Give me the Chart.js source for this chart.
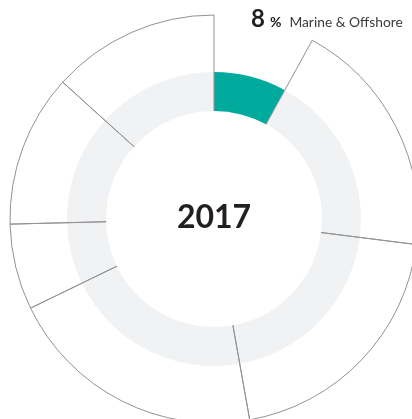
<!DOCTYPE html>
<html>
<head>
<meta charset="utf-8">
<title>2017</title>
<script src="https://cdn.jsdelivr.net/npm/chart.js@4.4.0/dist/chart.umd.min.js"></script>
<style>
  body { margin: 0; background: #fff; }
  #wrap { position: relative; width: 412px; height: 419px; overflow: hidden; font-family: Lato, "Noto Sans", sans-serif; }
  #wrap canvas { position: absolute; left: 0; top: 0; }
  #year { position: absolute; left: 114px; top: 200px; width: 200px; text-align: center;
          font-size: 32px; line-height: 32px; font-weight: 700; color: #231f20; }
  #callout { position: absolute; left: 251px; top: 7px; white-space: nowrap; line-height: 22px; color: #231f20; }
  #callout .pct { font-size: 24px; font-weight: 700; }
  #callout .sign { font-size: 14px; font-weight: 700; margin-left: 5px; }
  #callout .name { font-size: 13.8px; color: #3a3a3a; margin-left: 8px; }
</style>
</head>
<body>
<div id="wrap">
  <canvas id="ring" width="412" height="419"></canvas>
  <canvas id="outline" width="412" height="419"></canvas>
  <div id="year">2017</div>
  <div id="callout"><span class="pct" id="pct"></span><span class="sign">%</span><span class="name" id="name"></span></div>
</div>
<script>
// business lines, clockwise from 12 o'clock
const segments = ['Marine & Offshore', 'Business 2', 'Business 3', 'Business 4', 'Business 5', 'Business 6', 'Business 7'];
const shares2017 = [8, 19, 20.2, 20.6, 6.8, 12.1, 13.3];
const yearLabel = '2017';

// ring sizes (px)
const OUTER_R = 204;
const RING_R = 147;
const HOLE_R = 108;

const TEAL = '#00ab9e';
const LIGHT = '#f1f2f4';
const LINE = '#929292';

// centre of both rings sits at (214, 219)
const pad = { left: 16, top: 19, right: 0, bottom: 0 };

document.getElementById('pct').textContent = shares2017[0];
document.getElementById('name').textContent = segments[0];
document.getElementById('year').textContent = yearLabel;

// hides whatever the outline chart draws inside the hole
const holeClip = {
    id: 'holeClip',
    beforeDatasetsDraw(chart, args, opts) {
        const arc = chart.getDatasetMeta(0).data[0];
        const ctx = chart.ctx;
        ctx.save();
        ctx.beginPath();
        ctx.rect(0, 0, chart.width, chart.height);
        ctx.arc(arc.x, arc.y, opts.radius, 0, Math.PI * 2);
        ctx.clip('evenodd');
    },
    afterDatasetsDraw(chart) {
        chart.ctx.restore();
    }
};

const baseOpts = {
    responsive: false,
    animation: false,
    events: [],
    layout: { padding: pad },
    plugins: { legend: { display: false }, tooltip: { enabled: false } }
};

// inner ring: highlighted share vs the rest
new Chart(document.getElementById('ring'), {
    type: 'doughnut',
    data: {
        labels: [segments[0], 'Other'],
        datasets: [{
            data: [shares2017[0], 100 - shares2017[0]],
            backgroundColor: [TEAL, LIGHT],
            borderWidth: 0
        }]
    },
    options: Object.assign({}, baseOpts, {
        radius: RING_R,
        cutout: (HOLE_R / RING_R * 100) + '%'
    })
});

// outer ring: thin outlines of every business line
new Chart(document.getElementById('outline'), {
    type: 'doughnut',
    data: {
        labels: segments,
        datasets: [{
            data: shares2017,
            backgroundColor: 'rgba(0,0,0,0)',
            borderColor: LINE,
            borderWidth: shares2017.map((v, i) => i === 0 ? 0 : 1),
            clip: false
        }]
    },
    options: Object.assign({}, baseOpts, {
        radius: OUTER_R,
        cutout: ((HOLE_R - 6) / OUTER_R * 100) + '%',
        plugins: Object.assign({}, baseOpts.plugins, { holeClip: { radius: HOLE_R } })
    }),
    plugins: [holeClip]
});
</script>
</body>
</html>
